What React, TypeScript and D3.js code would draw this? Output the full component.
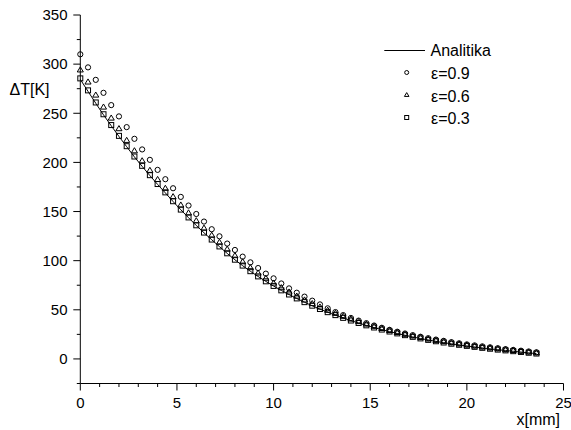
import React from "react";
import * as d3 from "d3";

const xs: number[] = d3.range(60).map((i) => +(i * 0.4).toFixed(1));

const eps09: number[] = [
  310, 296.7, 284, 270.8, 258.3, 246.8, 235.9, 224, 213.2, 202.6,
  192.4, 182.9, 173.7, 164.9, 156.1, 147.5, 139.8, 132, 124.8, 117.4,
  110.9, 104.1, 98.3, 92.5, 86.8, 82, 76.8, 71.8, 67.4, 63.4,
  59.3, 55.5, 51.5, 47.7, 44.6, 41.7, 39, 36.4, 34, 31.7,
  29.6, 27.7, 25.9, 24.2, 22.6, 21.1, 19.7, 18.4, 17.1, 15.9,
  14.8, 13.8, 12.8, 11.8, 10.9, 10, 9.2, 8.4, 7.6, 6.8,
];

const eps06: number[] = [
  294, 281.7, 268.4, 256.2, 245, 234.2, 222.3, 211.7, 201.5, 191.8,
  182.5, 173.5, 165, 156.5, 148.5, 140.5, 133, 125.8, 118.6, 111.6,
  105, 98.8, 92.8, 87.3, 82, 77.1, 72.4, 68, 63.8, 59.9,
  56.2, 52.7, 49.4, 46.3, 43.3, 40.5, 37.9, 35.4, 33.1, 30.9,
  28.8, 26.8, 25, 23.3, 21.7, 20.2, 18.8, 17.5, 16.3, 15.1,
  14, 13, 12, 11.1, 10.2, 9.3, 8.5, 7.7, 6.9, 6.1,
];

const eps03: number[] = [
  285.5, 273.3, 261, 249, 238, 227, 216.5, 206, 196.5, 187,
  178, 169.5, 160.5, 152, 144, 136, 128.6, 121.5, 114.5, 107.5,
  101, 95, 89.3, 84, 79, 74.3, 69.8, 65.6, 61.6, 57.8,
  54.2, 50.8, 47.6, 44.6, 41.8, 39.1, 36.6, 34.2, 32, 29.9,
  27.9, 26, 24.2, 22.5, 20.9, 19.4, 18, 16.7, 15.5, 14.4,
  13.3, 12.3, 11.3, 10.4, 9.5, 8.7, 7.9, 7.1, 6.3, 5.5,
];

const analytic: number[] = [
  284.5, 272.3, 260.2, 248.4, 237.3, 226.4, 216, 205.6, 196, 186.6,
  177.6, 169, 160.2, 151.8, 143.7, 135.8, 128.4, 121.3, 114.3, 107.4,
  100.9, 94.9, 89.2, 83.9, 78.9, 74.2, 69.7, 65.5, 61.5, 57.7,
  54.1, 50.7, 47.5, 44.5, 41.7, 39, 36.5, 34.1, 31.9, 29.8,
  27.8, 25.9, 24.1, 22.4, 20.8, 19.3, 17.9, 16.6, 15.4, 14.3,
  13.2, 12.2, 11.2, 10.3, 9.4, 8.6, 7.8, 7, 6.2, 5.4,
];

const yTicks: number[] = [0, 50, 100, 150, 200, 250, 300, 350];
const xTicks: number[] = [0, 5, 10, 15, 20, 25];
const legendLabels: string[] = ["Analitika", "ε=0.9", "ε=0.6", "ε=0.3"];

export default function App() {
  const W = 571;
  const H = 430;
  const x = d3.scaleLinear().domain([0, 25]).range([80.3, 563.5]);
  const y = d3.scaleLinear().domain([-25, 350]).range([383.5, 15]);
  const font = "'Liberation Sans', Arial, sans-serif";

  const yMinor = d3.range(-25, 351, 25).filter((v) => v % 50 !== 0);
  const xMinor = d3.range(0, 26, 1).filter((v) => v % 5 !== 0);

  const line = d3
    .line<number>()
    .x((_, i) => x(xs[i]))
    .y((d) => y(d));

  const tri = (cx: number, cy: number, s: number) =>
    `M${cx},${cy - s}L${cx + s * 0.95},${cy + s * 0.6}L${cx - s * 0.95},${cy + s * 0.6}Z`;

  const x0 = x(0);
  const yb = y(-25);

  return (
    <svg
      width={W}
      height={H}
      style={{ position: "absolute", left: 0, top: 0, background: "#fff" }}
      fontFamily={font}
      fontSize={15}
    >
      <rect x={0} y={0} width={W} height={H} fill="#fff" />
      {/* axes */}
      <line x1={x0} x2={x0} y1={y(350)} y2={yb} stroke="#000" strokeWidth={1} />
      <line x1={x0} x2={x(25)} y1={yb} y2={yb} stroke="#000" strokeWidth={1} />
      {yTicks.map((t) => (
        <g key={"yt" + t}>
          <line x1={x0 - 7} x2={x0} y1={y(t)} y2={y(t)} stroke="#000" />
          <text x={67.5} y={y(t)} dy="0.35em" textAnchor="end">
            {t}
          </text>
        </g>
      ))}
      {yMinor.map((t) => (
        <line key={"ym" + t} x1={x0 - 3.5} x2={x0} y1={y(t)} y2={y(t)} stroke="#000" />
      ))}
      {xTicks.map((t) => (
        <g key={"xt" + t}>
          <line x1={x(t)} x2={x(t)} y1={yb} y2={yb + 7} stroke="#000" />
          <text x={x(t)} y={403} dy="0.35em" textAnchor="middle">
            {t}
          </text>
        </g>
      ))}
      {xMinor.map((t) => (
        <line key={"xm" + t} x1={x(t)} x2={x(t)} y1={yb} y2={yb + 3.5} stroke="#000" />
      ))}
      <text x={560} y={419} dy="0.35em" textAnchor="end" fontSize={16}>
        x[mm]
      </text>
      <text x={9.5} y={89.5} dy="0.35em" textAnchor="start" fontSize={16}>
        ΔT[K]
      </text>

      {/* analytic line */}
      <path d={line(analytic) || ""} fill="none" stroke="#000" strokeWidth={1} />

      {/* markers */}
      {eps03.map((v, i) => (
        <rect
          key={"s" + i}
          x={x(xs[i]) - 2.5}
          y={y(v) - 2.5}
          width={5}
          height={5}
          fill="none"
          stroke="#000"
          strokeWidth={1}
        />
      ))}
      {eps06.map((v, i) => (
        <path key={"t" + i} d={tri(x(xs[i]), y(v), 3.2)} fill="none" stroke="#000" strokeWidth={1} />
      ))}
      {eps09.map((v, i) => (
        <circle key={"c" + i} cx={x(xs[i])} cy={y(v)} r={2.6} fill="none" stroke="#000" strokeWidth={1} />
      ))}

      {/* legend */}
      <g fontSize={16}>
        <line x1={384.3} x2={425} y1={50.5} y2={50.5} stroke="#000" strokeWidth={1} />
        <text x={430.5} y={50.5} dy="0.35em">
          {legendLabels[0]}
        </text>
        <circle cx={406.7} cy={72.5} r={2} fill="none" stroke="#000" strokeWidth={1} />
        <text x={431} y={73} dy="0.35em">
          {legendLabels[1]}
        </text>
        <path d={tri(406.7, 95, 2.4)} fill="none" stroke="#000" strokeWidth={1} />
        <text x={431} y={96} dy="0.35em">
          {legendLabels[2]}
        </text>
        <rect x={404.7} y={115.5} width={4} height={4} fill="none" stroke="#000" strokeWidth={1} />
        <text x={431} y={118.5} dy="0.35em">
          {legendLabels[3]}
        </text>
      </g>
    </svg>
  );
}
